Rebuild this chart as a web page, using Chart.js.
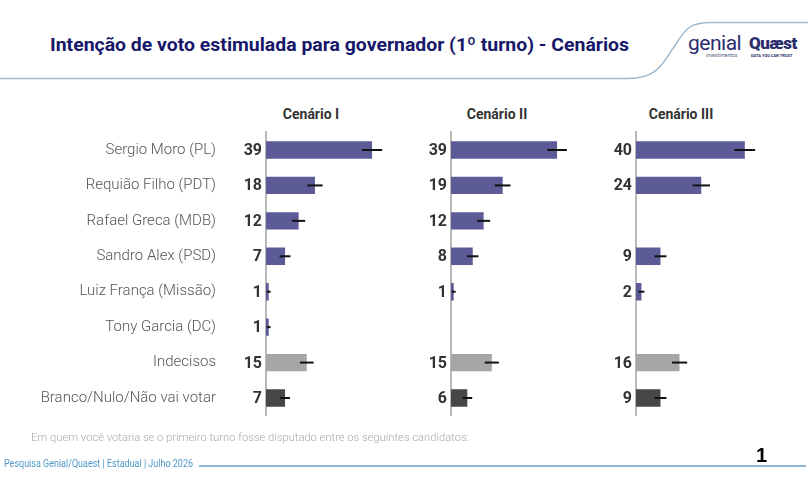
<!DOCTYPE html>
<html>
<head>
<meta charset="utf-8">
<script src="https://cdn.jsdelivr.net/npm/chart.js@4"></script>
<style>
  html, body { margin:0; padding:0; background:#fff; }
  #page { position:relative; width:808px; height:498px; overflow:hidden; background:#fff; font-family: Roboto, "Noto Sans", sans-serif; }
  .abs { position:absolute; white-space:nowrap; }
  canvas.panel { position:absolute; top:0; }
  #title { left:50px; top:33px; font-weight:700; font-size:19px; color:#17176a; transform-origin:left center; }
  .hdr { top:106px; font-weight:700; font-size:14px; color:#333; transform:translateX(-50%); }
  #note { left:31px; top:431px; font-size:11px; font-weight:300; color:#a8a8a8; transform-origin:left center; }
  #src { left:4px; top:458px; font-size:10px; color:#4f98c6; transform-origin:left center; }
  #pg { left:756px; top:444px; font-size:20px; font-weight:700; color:#000; font-family:"Liberation Sans", Arial, sans-serif; }
  #genial { left:688px; top:31px; font-size:21px; font-weight:400; color:#2b2d6e; letter-spacing:-0.5px; }
  #genialsub { left:706px; top:52px; font-size:5px; color:#5a5d8a; }
  #quaest { left:749px; top:33px; font-size:17px; font-weight:900; color:#2b2d6e; letter-spacing:-0.5px; }
  #quaestsub { left:751px; top:53px; font-size:4px; font-weight:700; color:#2b2d6e; }
</style>
</head>
<body>
<div id="page">
  <svg class="abs" style="left:0;top:0" width="808" height="498">
    <path d="M0 78.5 L628 78.5 C660 78.5 664 60 676 44 C686 28 690 22.5 712 22.5 L808 22.5" fill="none" stroke="#9db9cf" stroke-width="1.5"/>
    <line x1="199" y1="466" x2="806" y2="466" stroke="#8fb6d2" stroke-width="2"/>
  </svg>
  <div id="title" class="abs">Intenção de voto estimulada para governador (1º turno) - Cenários</div>
  <div id="genial" class="abs">genial</div>
  <div id="genialsub" class="abs">investimentos</div>
  <div id="quaest" class="abs">Quæst</div>
  <div id="quaestsub" class="abs">DATA YOU CAN TRUST</div>
  <div class="abs hdr" style="left:311px">Cenário I</div>
  <div class="abs hdr" style="left:497px">Cenário II</div>
  <div class="abs hdr" style="left:681px">Cenário III</div>
  <canvas id="c1" class="panel" style="left:0px" width="402" height="498"></canvas>
  <canvas id="c2" class="panel" style="left:402px" width="185" height="498"></canvas>
  <canvas id="c3" class="panel" style="left:587px" width="185" height="498"></canvas>
  <div id="note" class="abs">Em quem você votaria se o primeiro turno fosse disputado entre os seguintes candidatos:</div>
  <div id="src" class="abs">Pesquisa Genial/Quaest | Estadual | Julho 2026</div>
  <div id="pg" class="abs">1</div>
</div>
<script>
// ---- data ----
const categories = ["Sergio Moro (PL)", "Requião Filho (PDT)", "Rafael Greca (MDB)", "Sandro Alex (PSD)",
                    "Luiz França (Missão)", "Tony Garcia (DC)", "Indecisos", "Branco/Nulo/Não vai votar"];
const scenarioTitles = ["Cenário I", "Cenário II", "Cenário III"];
const cenario1 = [39, 18, 12, 7, 1, 1, 15, 7];
const cenario2 = [39, 19, 12, 8, 1, null, 15, 6];
const cenario3 = [40, 24, null, 9, 2, null, 16, 9];
const erro1 = [3.7, 2.8, 2.4, 2.0, 0.7, 0.7, 2.5, 1.8];
const erro2 = [3.6, 2.9, 2.4, 2.1, 0.7, null, 2.6, 1.8];
const erro3 = [3.8, 3.2, null, 2.2, 1.1, null, 2.8, 2.2];
const xMax = 50;

const barColors = ["#5c5a97","#5c5a97","#5c5a97","#5c5a97","#5c5a97","#5c5a97","#a6a6a6","#474747"];

// fit widths of a few text lines to the reference
function fitWidth(id, w) {
  const el = document.getElementById(id);
  const cur = el.getBoundingClientRect().width;
  if (cur > 0) el.style.transform = "scaleX(" + (w / cur) + ")";
}
fitWidth("title", 579);
fitWidth("note", 438);
fitWidth("src", 189);

const labelsAndErrors = {
  id: "labelsAndErrors",
  afterDatasetsDraw(chart, args, opts) {
    const ctx = chart.ctx;
    const xs = chart.scales.x;
    const meta = chart.getDatasetMeta(0);
    const data = chart.data.datasets[0].data;
    const errs = opts.errors;
    ctx.save();
    meta.data.forEach((bar, i) => {
      const v = data[i];
      if (v === null || v === undefined) return;
      const e = errs[i] || 0;
      // error bar
      ctx.strokeStyle = "#111";
      ctx.lineWidth = 2;
      ctx.beginPath();
      ctx.moveTo(xs.getPixelForValue(v - e), bar.y);
      ctx.lineTo(xs.getPixelForValue(v + e), bar.y);
      ctx.stroke();
      // value label
      ctx.fillStyle = "#333";
      ctx.font = "700 16px Roboto, 'Noto Sans', sans-serif";
      ctx.textAlign = "right";
      ctx.textBaseline = "middle";
      ctx.fillText(String(v), chart.chartArea.left - 4, bar.y + 1);
    });
    ctx.restore();
  }
};

function makeChart(id, values, errors, showLabels, yWidth) {
  return new Chart(document.getElementById(id), {
    type: "bar",
    data: {
      labels: categories,
      datasets: [{ data: values, backgroundColor: barColors, borderWidth: 0,
                   barPercentage: 0.49, categoryPercentage: 1.0 }]
    },
    options: {
      indexAxis: "y",
      responsive: false,
      animation: false,
      layout: { padding: { top: 132.3, bottom: 82.3, left: 0, right: 0 } },
      plugins: {
        legend: { display: false },
        tooltip: { enabled: false },
        labelsAndErrors: { errors: errors }
      },
      scales: {
        x: { display: false, min: 0, max: xMax },
        y: {
          display: true,
          grid: { display: false, drawTicks: false },
          border: { display: true, color: "#b9b9b9", width: 2 },
          ticks: {
            display: showLabels,
            padding: 50,
            color: "#555",
            font: { family: "Roboto, 'Noto Sans', sans-serif", size: 15, weight: 300 }
          },
          afterFit(scale) { scale.width = yWidth; }
        }
      }
    },
    plugins: [labelsAndErrors]
  });
}

makeChart("c1", cenario1, erro1, true, 266);
makeChart("c2", cenario2, erro2, false, 49);
makeChart("c3", cenario3, erro3, false, 49);
</script>
</body>
</html>
